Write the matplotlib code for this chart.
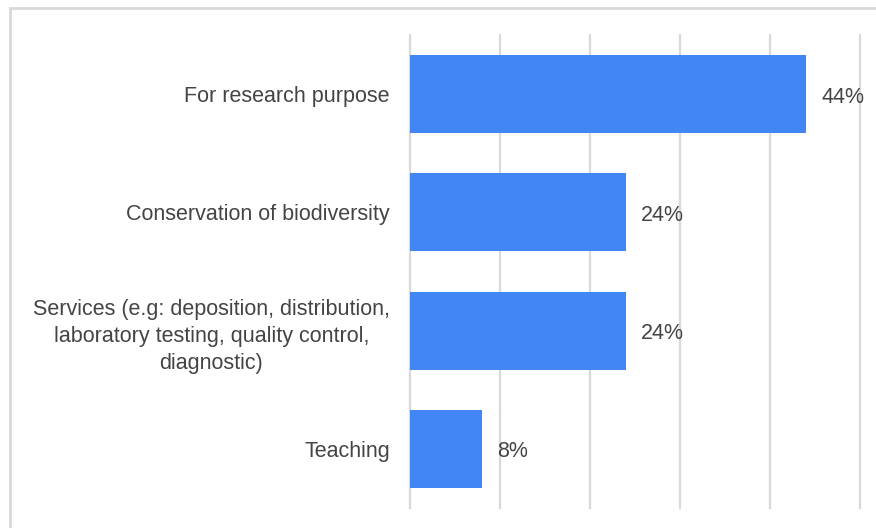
import matplotlib
matplotlib.use("Agg")
import matplotlib.pyplot as plt
from matplotlib.patches import Rectangle

categories = [
    "For research purpose",
    "Conservation of biodiversity",
    "Services (e.g: deposition, distribution,\nlaboratory testing, quality control,\ndiagnostic)",
    "Teaching",
]
values = [44, 24, 24, 8]
value_labels = ["44%", "24%", "24%", "8%"]
grid_ticks = [0, 10, 20, 30, 40, 50]

plt.rcParams['font.family'] = ['Liberation Sans', 'DejaVu Sans']
fig = plt.figure(figsize=(8.76, 5.28), dpi=100)
ax = fig.add_axes([410/876, 1-508/528, 450/876, 473/528])

ypos = list(range(len(categories)))
ax.barh(ypos, values, height=0.66, color="#4285f4", zorder=3)
ax.set_ylim(3.5, -0.5)
ax.set_xlim(0, 50)
ax.set_xticks(grid_ticks)
ax.set_xticklabels([])
ax.tick_params(axis='both', length=0)
for g in grid_ticks:
    ax.axvline(g, color="#d9d9d9", linewidth=1.6, zorder=0, clip_on=False)
for s in ax.spines.values():
    s.set_visible(False)
ax.set_yticks(ypos)
ax.set_yticklabels(categories, fontsize=15.5, color="#444444", multialignment='center',
                   linespacing=1.38)
ax.tick_params(axis='y', pad=14.5)
for y, v, lab in zip(ypos, values, value_labels):
    ax.annotate(lab, (v, y), xytext=(15, -3), textcoords='offset pixels',
                ha='left', va='center', fontsize=15.5, color="#444444")

fig.patches.append(Rectangle((10/876, -0.1), 1.0, 1 - 8/528 + 0.1, transform=fig.transFigure,
                             fill=False, edgecolor="#d9d9d9", linewidth=2, zorder=0))
fig.savefig("out.png", dpi=100)
